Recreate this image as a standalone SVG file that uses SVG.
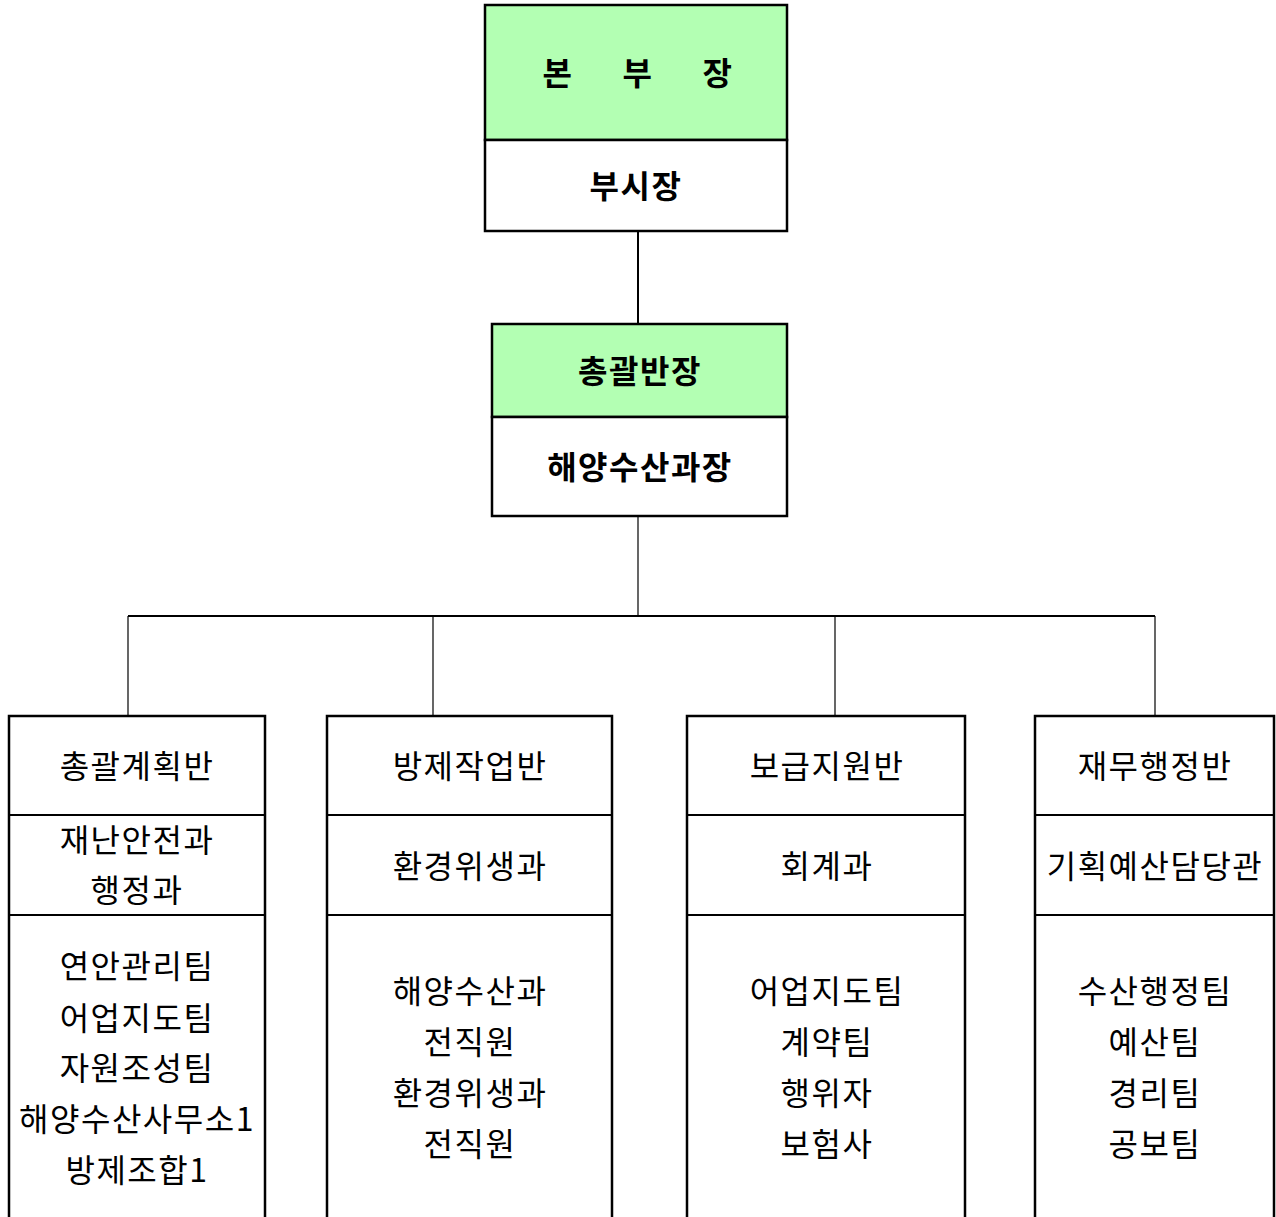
<svg xmlns="http://www.w3.org/2000/svg" width="1276" height="1217" viewBox="0 0 1276 1217">
<style>
.box{fill:#fff;stroke:#000;stroke-width:2.5}
.green{fill:#b3ffb3;stroke:#000;stroke-width:2.5}
.div{stroke:#000;stroke-width:1.8}
.ln{stroke:#000;stroke-width:1.2;fill:none}
text{font-family:"Noto Sans CJK KR","Noto Sans",sans-serif;font-size:32px;letter-spacing:1.5px;text-anchor:middle;fill:#000}
.b{font-weight:bold}
</style>
<rect width="1276" height="1217" fill="#fff"/>
<g id="connectors">
<line class="ln" x1="638" y1="232" x2="638" y2="323" style="stroke-width:2"/>
<line class="ln" x1="638" y1="517" x2="638" y2="616"/>
<line class="ln" x1="128" y1="616" x2="1155" y2="616" style="stroke-width:1.8"/>
<line class="ln" x1="128" y1="616" x2="128" y2="716"/>
<line class="ln" x1="433" y1="616" x2="433" y2="716"/>
<line class="ln" x1="835" y1="616" x2="835" y2="716"/>
<line class="ln" x1="1155" y1="616" x2="1155" y2="716"/>
</g>
<g id="node-hq">
<rect class="green" x="485" y="5" width="302" height="135"/>
<rect class="box" x="485" y="140" width="302" height="91"/>
<text class="b" x="558" y="85">본</text>
<text class="b" x="638" y="85">부</text>
<text class="b" x="718" y="85">장</text>
<text class="b" x="636" y="198">부시장</text>
</g>
<g id="node-chief">
<rect class="green" x="492" y="324" width="295" height="93"/>
<rect class="box" x="492" y="417" width="295" height="99"/>
<text class="b" x="640" y="383">총괄반장</text>
<text class="b" x="640" y="479">해양수산과장</text>
</g>
<g id="node-plan">
<rect class="box" x="9" y="716" width="256" height="520"/>
<line class="div" x1="9" y1="815" x2="265" y2="815"/>
<line class="div" x1="9" y1="915" x2="265" y2="915"/>
<text x="137" y="778">총괄계획반</text>
<text x="137" y="852">재난안전과</text>
<text x="137" y="902">행정과</text>
<text x="137" y="978">연안관리팀</text>
<text x="137" y="1030">어업지도팀</text>
<text x="137" y="1080">자원조성팀</text>
<text x="137" y="1131">해양수산사무소1</text>
<text x="137" y="1182">방제조합1</text>
</g>
<g id="node-control">
<rect class="box" x="327" y="716" width="285" height="520"/>
<line class="div" x1="327" y1="815" x2="612" y2="815"/>
<line class="div" x1="327" y1="915" x2="612" y2="915"/>
<text x="470" y="778">방제작업반</text>
<text x="470" y="878">환경위생과</text>
<text x="470" y="1003">해양수산과</text>
<text x="470" y="1054">전직원</text>
<text x="470" y="1105">환경위생과</text>
<text x="470" y="1156">전직원</text>
</g>
<g id="node-supply">
<rect class="box" x="687" y="716" width="278" height="520"/>
<line class="div" x1="687" y1="815" x2="965" y2="815"/>
<line class="div" x1="687" y1="915" x2="965" y2="915"/>
<text x="827" y="778">보급지원반</text>
<text x="827" y="878">회계과</text>
<text x="827" y="1003">어업지도팀</text>
<text x="827" y="1054">계약팀</text>
<text x="827" y="1105">행위자</text>
<text x="827" y="1156">보험사</text>
</g>
<g id="node-finance">
<rect class="box" x="1035" y="716" width="239" height="520"/>
<line class="div" x1="1035" y1="815" x2="1274" y2="815"/>
<line class="div" x1="1035" y1="915" x2="1274" y2="915"/>
<text x="1155" y="778">재무행정반</text>
<text x="1155" y="878">기획예산담당관</text>
<text x="1155" y="1003">수산행정팀</text>
<text x="1155" y="1054">예산팀</text>
<text x="1155" y="1105">경리팀</text>
<text x="1155" y="1156">공보팀</text>
</g>
</svg>
